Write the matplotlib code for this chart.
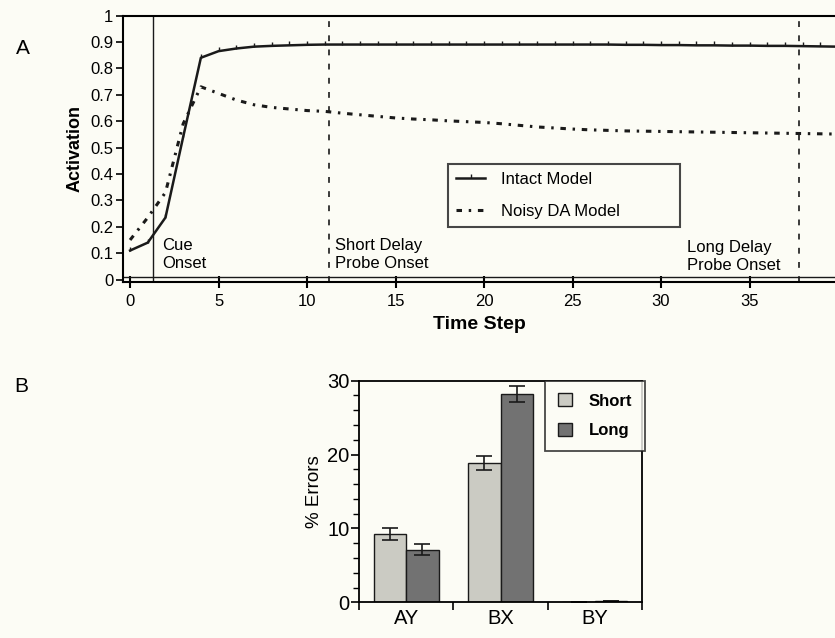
import matplotlib
matplotlib.use("Agg")
import matplotlib.pyplot as plt
import numpy as np

# ---- Panel A data ----
time_steps = list(range(0, 41))
intact = [0.11, 0.14, 0.235, 0.54, 0.84, 0.865, 0.875, 0.882, 0.885, 0.887,
          0.889, 0.89, 0.89, 0.89, 0.89, 0.89, 0.89, 0.89, 0.89, 0.89,
          0.89, 0.89, 0.89, 0.89, 0.89, 0.89, 0.89, 0.89, 0.889, 0.889,
          0.888, 0.888, 0.887, 0.887, 0.886, 0.886, 0.885, 0.885, 0.884, 0.883, 0.882]
noisy = [0.15, 0.235, 0.33, 0.59, 0.73, 0.705, 0.68, 0.662, 0.652, 0.646,
         0.64, 0.637, 0.63, 0.624, 0.618, 0.612, 0.608, 0.605, 0.601, 0.598,
         0.595, 0.59, 0.584, 0.578, 0.574, 0.57, 0.567, 0.565, 0.563, 0.562,
         0.561, 0.56, 0.559, 0.558, 0.557, 0.556, 0.555, 0.554, 0.553, 0.552, 0.551]
cue_onset = 1.3
short_probe = 11.25
long_probe = 37.8
xticks_a = [0, 5, 10, 15, 20, 25, 30, 35]
yticks_a = [0, 0.1, 0.2, 0.3, 0.4, 0.5, 0.6, 0.7, 0.8, 0.9, 1]
ytick_labels_a = ["0", "0.1", "0.2", "0.3", "0.4", "0.5", "0.6", "0.7", "0.8", "0.9", "1"]

# ---- Panel B data ----
conditions = ["AY", "BX", "BY"]
short_err = [9.2, 18.9, 0.1]
long_err = [7.1, 28.2, 0.2]
short_sem = [0.8, 0.95, 0.0]
long_sem = [0.75, 1.1, 0.0]

BG = "#fcfcf5"
INK = "#1a1a1a"
plt.rcParams['font.family'] = ['Liberation Sans', 'DejaVu Sans']
fig = plt.figure(figsize=(8.35, 6.38), dpi=100, facecolor=BG)

# ---------------- Panel A ----------------
axA = fig.add_axes([123/835, 1-281.7/638, (835-123)/835, (281.7-15.5)/638])
axA.set_facecolor(BG)
axA.plot(time_steps, intact, color=INK, lw=1.8, marker=2, ms=3, mew=1,
         label="Intact Model")
axA.plot(time_steps, noisy, color=INK, lw=2.2, linestyle=(0, (1.8, 2.2, 0.8, 2.2)),
         label="Noisy DA Model")
axA.axvline(cue_onset, color=INK, lw=1.0)
axA.axvline(short_probe, color=INK, lw=1.2, linestyle=(0, (3.5, 5)))
axA.axvline(long_probe, color=INK, lw=1.2, linestyle=(0, (3.5, 5)))
axA.axhline(0.011, color=INK, lw=1.0)

axA.set_xlim(-0.4, 39.83)
axA.set_ylim(-0.008, 1.0)
axA.set_xticks(xticks_a)
axA.set_yticks(yticks_a)
axA.set_yticklabels(ytick_labels_a)
axA.tick_params(axis='x', direction='inout', length=9, width=1.5, labelsize=12, pad=4.5)
axA.tick_params(axis='y', direction='out', length=5, width=1.2, labelsize=12, pad=2)
for s in ['left', 'bottom', 'top']:
    axA.spines[s].set_linewidth(1.5)
axA.spines['right'].set_visible(False)
axA.set_ylabel("Activation", fontsize=13, fontweight='bold', labelpad=5)
axA.set_xlabel("Time Step", fontsize=14, fontweight='bold', labelpad=5)

axA.text(1.8, 0.045, "Cue\nOnset", fontsize=12, ha='left', va='baseline', linespacing=1.2)
axA.text(11.6, 0.045, "Short Delay\nProbe Onset", fontsize=12, ha='left', va='baseline', linespacing=1.2)
axA.text(31.45, 0.038, "Long Delay\nProbe Onset", fontsize=12, ha='left', va='baseline', linespacing=1.2)

legA = axA.legend(loc='upper left',
                  bbox_to_anchor=(448/835, 1-227/638, 232/835, 63/638),
                  bbox_transform=fig.transFigure, mode='expand', borderaxespad=0,
                  fontsize=12, frameon=True, fancybox=False, handlelength=1.7,
                  handletextpad=1.0, borderpad=0.5, labelspacing=1.0, edgecolor=INK)
legA.get_frame().set_linewidth(1.5)
legA.get_frame().set_facecolor(BG)

fig.text(23/835, 1-48/638, "A", fontsize=15, ha='center', va='center')
fig.text(21/835, 1-387/638, "B", fontsize=15, ha='center', va='center')

# ---------------- Panel B ----------------
axB = fig.add_axes([359/835, 1-602.3/638, (642-359)/835, (602.3-380.7)/638])
axB.set_facecolor(BG)
x = np.arange(len(conditions))
w = 0.345
axB.bar(x - w/2, short_err, w, color="#cbcbc3", edgecolor=INK, lw=1.0,
        yerr=short_sem, capsize=6, error_kw=dict(lw=1.2, capthick=1.2, ecolor=INK),
        label="Short")
axB.bar(x + w/2, long_err, w, color="#727272", edgecolor=INK, lw=1.0,
        yerr=long_sem, capsize=6, error_kw=dict(lw=1.2, capthick=1.2, ecolor=INK),
        label="Long")
axB.set_xlim(-0.5, 2.5)
axB.set_ylim(0, 30)
axB.set_yticks([0, 10, 20, 30])
axB.set_yticks(np.arange(0, 31, 2), minor=True)
axB.set_xticks([-0.5, 0.5, 1.5, 2.5])
axB.set_xticklabels([])
axB.set_xticks(x, minor=True)
axB.set_xticklabels(conditions, minor=True)
axB.tick_params(axis='x', which='major', direction='out', length=6, width=1.2)
axB.tick_params(axis='x', which='minor', length=0, labelsize=14.5, pad=5)
axB.tick_params(axis='y', which='major', direction='out', length=6, width=1.2, labelsize=14.5, pad=1)
axB.tick_params(axis='y', which='minor', direction='out', length=4, width=1.0)
for s in axB.spines.values():
    s.set_linewidth(1.3)
axB.set_ylabel("% Errors", fontsize=13.5, labelpad=3)

legB = axB.legend(loc='upper right', bbox_to_anchor=(1.01, 1.0), borderaxespad=0,
                  frameon=True, fancybox=False, handlelength=0.85,
                  handleheight=0.85, handletextpad=1.0, borderpad=0.75, labelspacing=0.85,
                  edgecolor=INK, prop={'weight': 'bold', 'size': 12})
legB.get_frame().set_linewidth(1.3)
legB.get_frame().set_facecolor(BG)

fig.savefig("out.png", dpi=100, facecolor=BG)
